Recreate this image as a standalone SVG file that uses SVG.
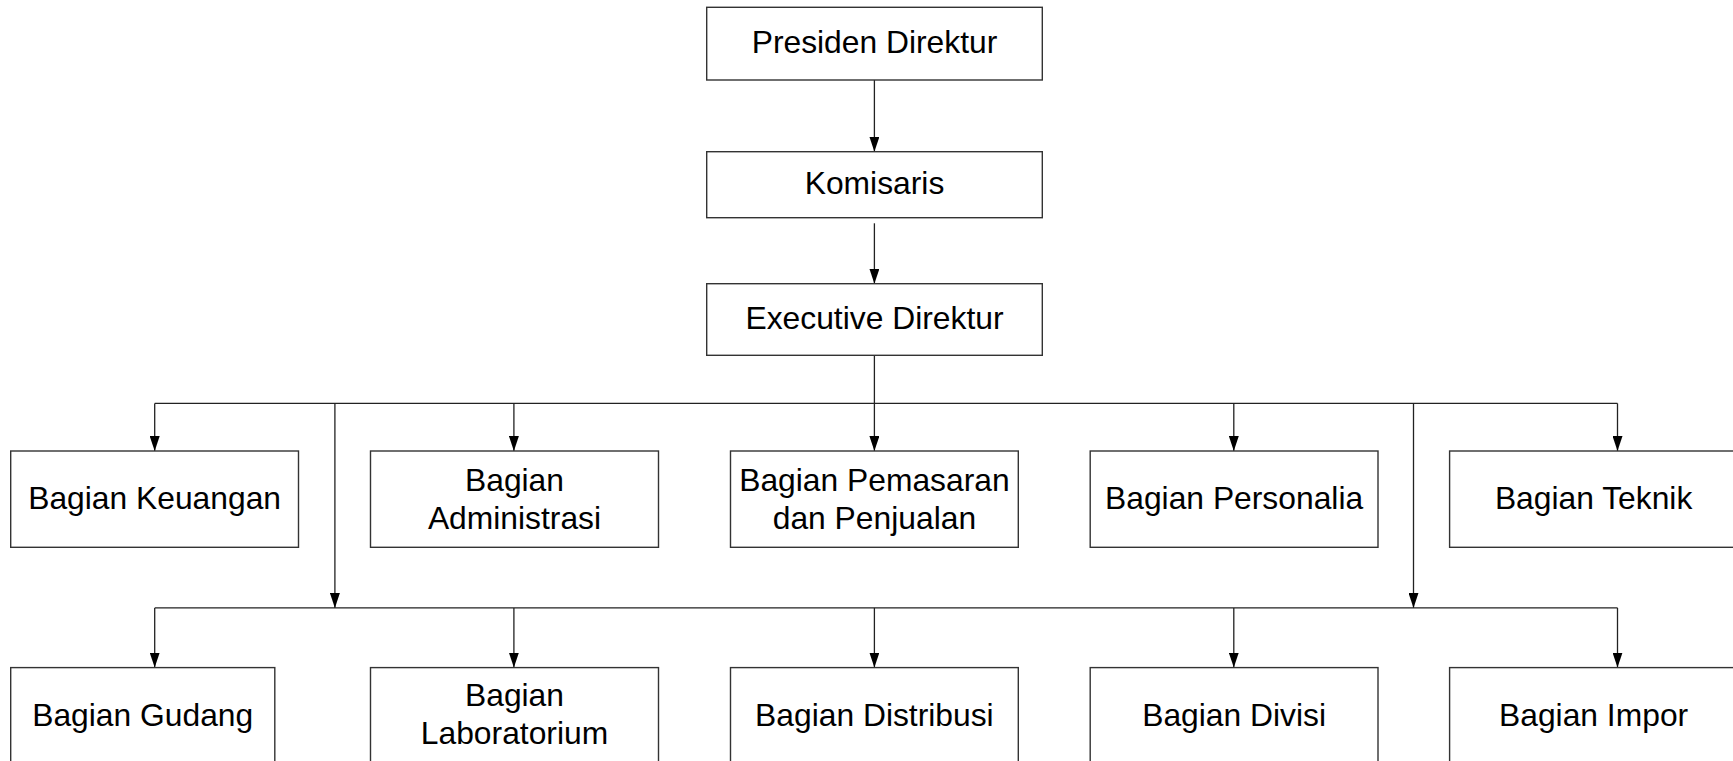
<svg xmlns="http://www.w3.org/2000/svg" width="1733" height="761" viewBox="0 0 1733 761">
<style>
.box{fill:#fff;stroke:#333;stroke-width:1.4}
.lbl{font-family:"Liberation Sans",Arial,sans-serif;font-size:31.8px;fill:#000;text-anchor:middle}
.con{fill:none;stroke:#222;stroke-width:1.3}
</style>
<defs>
<marker id="arr" viewBox="0 0 15 10" refX="15" refY="5" markerWidth="15" markerHeight="10" markerUnits="userSpaceOnUse" orient="auto">
<path d="M0,0 L15,5 L0,10 z" fill="#000"/>
</marker>
</defs>
<rect width="1733" height="761" fill="#fff"/>
<g id="connectors">
<line class="con" x1="874.4" y1="80" x2="874.4" y2="151.7" marker-end="url(#arr)"/>
<line class="con" x1="874.4" y1="223.3" x2="874.4" y2="283.7" marker-end="url(#arr)"/>
<line class="con" x1="874.4" y1="355.3" x2="874.4" y2="451" marker-end="url(#arr)"/>
<line class="con" x1="154.7" y1="403.4" x2="1617.5" y2="403.4"/>
<line class="con" x1="154.7" y1="403.4" x2="154.7" y2="451" marker-end="url(#arr)"/>
<line class="con" x1="513.9" y1="403.4" x2="513.9" y2="451" marker-end="url(#arr)"/>
<line class="con" x1="1233.8" y1="403.4" x2="1233.8" y2="451" marker-end="url(#arr)"/>
<line class="con" x1="1617.5" y1="403.4" x2="1617.5" y2="451" marker-end="url(#arr)"/>
<line class="con" x1="334.9" y1="403.4" x2="334.9" y2="607.9" marker-end="url(#arr)"/>
<line class="con" x1="1413.5" y1="403.4" x2="1413.5" y2="607.9" marker-end="url(#arr)"/>
<line class="con" x1="154.7" y1="607.9" x2="1617.5" y2="607.9"/>
<line class="con" x1="154.7" y1="607.9" x2="154.7" y2="667.6" marker-end="url(#arr)"/>
<line class="con" x1="513.9" y1="607.9" x2="513.9" y2="667.6" marker-end="url(#arr)"/>
<line class="con" x1="874.4" y1="607.9" x2="874.4" y2="667.6" marker-end="url(#arr)"/>
<line class="con" x1="1233.8" y1="607.9" x2="1233.8" y2="667.6" marker-end="url(#arr)"/>
<line class="con" x1="1617.5" y1="607.9" x2="1617.5" y2="667.6" marker-end="url(#arr)"/>
</g>
<g id="presiden"><rect class="box" x="706.7" y="7.3" width="335.6" height="72.7"/><text class="lbl" x="874.5" y="53">Presiden Direktur</text></g>
<g id="komisaris"><rect class="box" x="706.7" y="151.7" width="335.6" height="66"/><text class="lbl" x="874.5" y="194">Komisaris</text></g>
<g id="executive"><rect class="box" x="706.7" y="283.7" width="335.6" height="71.6"/><text class="lbl" x="874.5" y="329">Executive Direktur</text></g>
<g id="keuangan"><rect class="box" x="10.7" y="451" width="287.8" height="96.3"/><text class="lbl" x="154.6" y="509">Bagian Keuangan</text></g>
<g id="administrasi"><rect class="box" x="370.5" y="451" width="288" height="96.3"/><text class="lbl" x="514.5" y="490.5">Bagian</text><text class="lbl" x="514.5" y="528.5">Administrasi</text></g>
<g id="pemasaran"><rect class="box" x="730.5" y="451" width="287.8" height="96.3"/><text class="lbl" x="874.4" y="490.5">Bagian Pemasaran</text><text class="lbl" x="874.4" y="528.5">dan Penjualan</text></g>
<g id="personalia"><rect class="box" x="1090.2" y="451" width="287.8" height="96.3"/><text class="lbl" x="1234.1" y="509">Bagian Personalia</text></g>
<g id="teknik"><rect class="box" x="1449.6" y="451" width="288" height="96.3"/><text class="lbl" x="1593.6" y="509">Bagian Teknik</text></g>
<g id="gudang"><rect class="box" x="10.7" y="667.6" width="264.1" height="96"/><text class="lbl" x="142.7" y="725.5">Bagian Gudang</text></g>
<g id="laboratorium"><rect class="box" x="370.5" y="667.6" width="288" height="96"/><text class="lbl" x="514.5" y="705.5">Bagian</text><text class="lbl" x="514.5" y="743.5">Laboratorium</text></g>
<g id="distribusi"><rect class="box" x="730.5" y="667.6" width="287.8" height="96"/><text class="lbl" x="874.4" y="725.5">Bagian Distribusi</text></g>
<g id="divisi"><rect class="box" x="1090.2" y="667.6" width="287.8" height="96"/><text class="lbl" x="1234.1" y="725.5">Bagian Divisi</text></g>
<g id="impor"><rect class="box" x="1449.6" y="667.6" width="288" height="96"/><text class="lbl" x="1593.6" y="725.5">Bagian Impor</text></g>
</svg>
